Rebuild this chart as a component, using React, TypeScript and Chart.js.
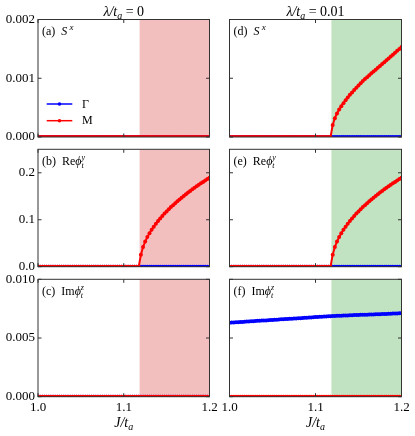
import React, { useEffect, useRef } from 'react';
import { Chart, registerables } from 'chart.js';

Chart.register(...registerables);

// ---------- data ----------
const J_VALUES = [
  1.0000, 1.0025, 1.0050, 1.0075, 1.0100, 1.0125, 1.0150, 1.0175, 1.0200, 1.0225, 1.0250, 1.0275,
  1.0300, 1.0325, 1.0350, 1.0375, 1.0400, 1.0425, 1.0450, 1.0475, 1.0500, 1.0525, 1.0550, 1.0575,
  1.0600, 1.0625, 1.0650, 1.0675, 1.0700, 1.0725, 1.0750, 1.0775, 1.0800, 1.0825, 1.0850, 1.0875,
  1.0900, 1.0925, 1.0950, 1.0975, 1.1000, 1.1025, 1.1050, 1.1075, 1.1100, 1.1125, 1.1150, 1.1175,
  1.1200, 1.1225, 1.1250, 1.1275, 1.1300, 1.1325, 1.1350, 1.1375, 1.1400, 1.1425, 1.1450, 1.1475,
  1.1500, 1.1525, 1.1550, 1.1575, 1.1600, 1.1625, 1.1650, 1.1675, 1.1700, 1.1725, 1.1750, 1.1775,
  1.1800, 1.1825, 1.1850, 1.1875, 1.1900, 1.1925, 1.1950, 1.1975, 1.2000,
];

const ZERO_SERIES = [
  0, 0, 0, 0, 0, 0, 0, 0, 0, 0, 0, 0,
  0, 0, 0, 0, 0, 0, 0, 0, 0, 0, 0, 0,
  0, 0, 0, 0, 0, 0, 0, 0, 0, 0, 0, 0,
  0, 0, 0, 0, 0, 0, 0, 0, 0, 0, 0, 0,
  0, 0, 0, 0, 0, 0, 0, 0, 0, 0, 0, 0,
  0, 0, 0, 0, 0, 0, 0, 0, 0, 0, 0, 0,
  0, 0, 0, 0, 0, 0, 0, 0, 0,
];

// Re phi_t^y at M (same for lambda = 0 and 0.01)
const RE_PHI_M = [
  0, 0, 0, 0, 0, 0, 0, 0, 0, 0, 0, 0,
  0, 0, 0, 0, 0, 0, 0, 0, 0, 0, 0, 0,
  0, 0, 0, 0, 0, 0, 0, 0, 0, 0, 0, 0,
  0, 0, 0, 0, 0, 0, 0, 0, 0, 0, 0, 0,
  0.0257, 0.0420, 0.0535, 0.0630, 0.0712, 0.0786, 0.0853, 0.0915, 0.0974, 0.1029, 0.1081, 0.1131,
  0.1178, 0.1224, 0.1269, 0.1311, 0.1353, 0.1393, 0.1432, 0.1470, 0.1507, 0.1543, 0.1578, 0.1613,
  0.1647, 0.1680, 0.1712, 0.1744, 0.1776, 0.1806, 0.1837, 0.1866, 0.1896,
];

// S^x at M for lambda = 0.01
const SX_M_LAM001 = [
  0, 0, 0, 0, 0, 0, 0, 0, 0, 0, 0, 0,
  0, 0, 0, 0, 0, 0, 0, 0, 0, 0, 0, 0,
  0, 0, 0, 0, 0, 0, 0, 0, 0, 0, 0, 0,
  0, 0, 0, 0, 0, 0, 0, 0, 0, 0, 0, 0,
  0.000204, 0.000320, 0.000400, 0.000466, 0.000525, 0.000576, 0.000625, 0.000674, 0.000719, 0.000758, 0.000798, 0.000837,
  0.000876, 0.000916, 0.000953, 0.000986, 0.001019, 0.001051, 0.001083, 0.001114, 0.001145, 0.001177, 0.001209, 0.001241,
  0.001273, 0.001305, 0.001338, 0.001370, 0.001402, 0.001434, 0.001466, 0.001498, 0.001530,
];

// Im phi_t^z at Gamma for lambda = 0.01
const IM_PHI_G_LAM001 = [
  0.00630, 0.00631, 0.00632, 0.00634, 0.00635, 0.00636, 0.00637, 0.00638, 0.00640, 0.00641, 0.00642, 0.00643,
  0.00644, 0.00646, 0.00647, 0.00648, 0.00649, 0.00650, 0.00651, 0.00653, 0.00654, 0.00655, 0.00656, 0.00657,
  0.00659, 0.00660, 0.00661, 0.00662, 0.00663, 0.00665, 0.00666, 0.00667, 0.00668, 0.00669, 0.00671, 0.00672,
  0.00673, 0.00674, 0.00675, 0.00677, 0.00678, 0.00679, 0.00680, 0.00681, 0.00683, 0.00684, 0.00685, 0.00686,
  0.00687, 0.00688, 0.00689, 0.00689, 0.00690, 0.00691, 0.00692, 0.00692, 0.00693, 0.00694, 0.00695, 0.00695,
  0.00696, 0.00697, 0.00697, 0.00698, 0.00699, 0.00700, 0.00700, 0.00701, 0.00702, 0.00703, 0.00703, 0.00704,
  0.00705, 0.00705, 0.00706, 0.00707, 0.00708, 0.00708, 0.00709, 0.00710, 0.00710,
];

const SHADE_START = 1.1185;
const X_MIN = 1.0;
const X_MAX = 1.2;
const X_TICKS = [1.0, 1.1, 1.2];
const X_TICK_LABELS = ['1.0', '1.1', '1.2'];

const SX_TICKS = [0, 0.001, 0.002];
const SX_TICK_LABELS = ['0.000', '0.001', '0.002'];
const SX_MAX = 0.002;
const RE_TICKS = [0, 0.1, 0.2];
const RE_TICK_LABELS = ['0.0', '0.1', '0.2'];
const RE_MAX = 0.25;
const IM_TICKS = [0, 0.005, 0.01];
const IM_TICK_LABELS = ['0.000', '0.005', '0.010'];
const IM_MAX = 0.01;

const SERIES_NAMES = ['Γ', 'M'];

// ---------- styles / layout ----------
const W = 415;
const H = 436;
const FONT = '"Liberation Serif", "Times New Roman", "DejaVu Serif", serif';
const BLUE = '#0000ff';
const RED = '#ff0000';
const PINK = 'rgb(243,190,190)';
const GREEN = 'rgb(193,227,193)';
const FRAME = '#333333';
const COL_X = [
  [38, 209.5],
  [229.5, 401.5],
];
const ROW_Y = [
  [19.5, 137],
  [149.3, 266.7],
  [279.3, 396.7],
];

type Seg = { t: string; it?: boolean; sz?: number; dy?: number; noAdv?: boolean };

function drawRich(ctx: CanvasRenderingContext2D, segs: Seg[], x: number, y: number, align: 'left' | 'center', base: number) {
  const fontOf = (s: Seg) => `${s.it ? 'italic ' : ''}${s.sz ?? base}px ${FONT}`;
  let total = 0;
  const widths: number[] = [];
  for (const s of segs) {
    ctx.font = fontOf(s);
    const w = ctx.measureText(s.t).width;
    widths.push(w);
    if (!s.noAdv) total += w;
  }
  let cx = align === 'center' ? x - total / 2 : x;
  ctx.textAlign = 'left';
  ctx.textBaseline = 'alphabetic';
  ctx.fillStyle = '#000';
  segs.forEach((s, i) => {
    ctx.font = fontOf(s);
    ctx.fillText(s.t, cx, y + (s.dy ?? 0));
    if (!s.noAdv) cx += widths[i];
  });
}

const SX_LABEL = (tag: string): Seg[] => [
  { t: `(${tag})  ` },
  { t: 'S', it: true },
  { t: ' x', it: true, sz: 9, dy: -5 },
];
const RE_LABEL = (tag: string): Seg[] => [
  { t: `(${tag})  ` },
  { t: 'Re' },
  { t: 'ϕ', it: true },
  { t: 't', it: true, sz: 8, dy: 3, noAdv: true },
  { t: 'y', it: true, sz: 8, dy: -5 },
];
const IM_LABEL = (tag: string): Seg[] => [
  { t: `(${tag})  ` },
  { t: 'Im' },
  { t: 'ϕ', it: true },
  { t: 't', it: true, sz: 8, dy: 3, noAdv: true },
  { t: 'z', it: true, sz: 8, dy: -5 },
];

const PANELS = [
  { col: 0, row: 0, label: SX_LABEL('a'), ticks: SX_TICKS, labels: SX_TICK_LABELS, max: SX_MAX, gamma: ZERO_SERIES, m: ZERO_SERIES, shade: PINK, legend: true },
  { col: 0, row: 1, label: RE_LABEL('b'), ticks: RE_TICKS, labels: RE_TICK_LABELS, max: RE_MAX, gamma: ZERO_SERIES, m: RE_PHI_M, shade: PINK, legend: false },
  { col: 0, row: 2, label: IM_LABEL('c'), ticks: IM_TICKS, labels: IM_TICK_LABELS, max: IM_MAX, gamma: ZERO_SERIES, m: ZERO_SERIES, shade: PINK, legend: false },
  { col: 1, row: 0, label: SX_LABEL('d'), ticks: SX_TICKS, labels: SX_TICK_LABELS, max: SX_MAX, gamma: ZERO_SERIES, m: SX_M_LAM001, shade: GREEN, legend: false },
  { col: 1, row: 1, label: RE_LABEL('e'), ticks: RE_TICKS, labels: RE_TICK_LABELS, max: RE_MAX, gamma: ZERO_SERIES, m: RE_PHI_M, shade: GREEN, legend: false },
  { col: 1, row: 2, label: IM_LABEL('f'), ticks: IM_TICKS, labels: IM_TICK_LABELS, max: IM_MAX, gamma: IM_PHI_G_LAM001, m: ZERO_SERIES, shade: GREEN, legend: false },
];

const COL_TITLES: Seg[][] = [
  [{ t: 'λ/t', it: true }, { t: 'a', it: true, sz: 10, dy: 3 }, { t: ' = 0' }],
  [{ t: 'λ/t', it: true }, { t: 'a', it: true, sz: 10, dy: 3 }, { t: ' = 0.01' }],
];
const X_TITLE: Seg[] = [{ t: 'J/t', it: true }, { t: 'a', it: true, sz: 10, dy: 3 }];

function makeChart(canvas: HTMLCanvasElement, p: (typeof PANELS)[number], idx: number) {
  const [xl, xr] = COL_X[p.col];
  const [yt, yb] = ROW_Y[p.row];
  const yWidth = p.col === 0 ? xl : 0;
  const padLeft = p.col === 0 ? 0 : xl;
  const isBottom = p.row === 2;
  const xHeight = isBottom ? H - yb : 0;
  const padBottom = isBottom ? 0 : H - yb;

  const mkDs = (name: string, vals: number[], color: string, order: number) => ({
    label: name,
    data: J_VALUES.map((x, i) => ({ x, y: vals[i] })),
    borderColor: color,
    backgroundColor: color,
    pointBackgroundColor: color,
    pointBorderWidth: 0,
    pointRadius: 2,
    borderWidth: 2,
    tension: 0,
    order,
  });

  const plugin = {
    id: 'panelDecor' + idx,
    beforeDatasetsDraw(chart: any) {
      const { ctx, chartArea: a } = chart;
      const xs = chart.scales.x.getPixelForValue(SHADE_START);
      ctx.save();
      ctx.fillStyle = p.shade;
      ctx.fillRect(xs, a.top, a.right - xs, a.bottom - a.top);
      ctx.restore();
    },
    afterDatasetsDraw(chart: any) {
      const { ctx, chartArea: a } = chart;
      const sx = chart.scales.x;
      const sy = chart.scales.y;
      ctx.save();
      ctx.strokeStyle = FRAME;
      ctx.lineWidth = 1;
      ctx.strokeRect(a.left, a.top, a.right - a.left, a.bottom - a.top);
      const TL = 3.5;
      ctx.beginPath();
      sy.ticks.forEach((t: any) => {
        const py = sy.getPixelForValue(t.value);
        ctx.moveTo(a.left, py);
        ctx.lineTo(a.left + TL, py);
        ctx.moveTo(a.right, py);
        ctx.lineTo(a.right - TL, py);
      });
      sx.ticks.forEach((t: any) => {
        const px = sx.getPixelForValue(t.value);
        ctx.moveTo(px, a.bottom);
        ctx.lineTo(px, a.bottom - TL);
        ctx.moveTo(px, a.top);
        ctx.lineTo(px, a.top + TL);
      });
      ctx.stroke();
      ctx.restore();
    },
    afterDraw(chart: any) {
      const { ctx, chartArea: a } = chart;
      ctx.save();
      drawRich(ctx, p.label, a.left + 4, a.top + 15.5, 'left', 12);
      const cx = (a.left + a.right) / 2;
      if (p.row === 0) drawRich(ctx, COL_TITLES[p.col], cx, 16, 'center', 14);
      if (isBottom) drawRich(ctx, X_TITLE, cx, 426.5, 'center', 14);
      if (p.legend) {
        const items = [
          { name: chart.data.datasets[1].label, color: chart.data.datasets[1].borderColor, y: 104 },
          { name: chart.data.datasets[0].label, color: chart.data.datasets[0].borderColor, y: 120.7 },
        ];
        items.forEach((it) => {
          ctx.strokeStyle = it.color;
          ctx.lineWidth = 1.5;
          ctx.beginPath();
          ctx.moveTo(a.left + 8.7, it.y);
          ctx.lineTo(a.left + 34.3, it.y);
          ctx.stroke();
          ctx.fillStyle = it.color;
          ctx.beginPath();
          ctx.arc(a.left + 21.5, it.y, 1.8, 0, Math.PI * 2);
          ctx.fill();
          ctx.fillStyle = '#000';
          ctx.font = `12px ${FONT}`;
          ctx.textAlign = 'left';
          ctx.textBaseline = 'middle';
          ctx.fillText(it.name, a.left + 44, it.y + 0.5);
        });
      }
      ctx.restore();
    },
  };

  return new Chart(canvas, {
    type: 'line',
    data: {
      datasets: [
        mkDs(SERIES_NAMES[1], p.m, RED, 0),
        mkDs(SERIES_NAMES[0], p.gamma, BLUE, 1),
      ],
    },
    options: {
      animation: false,
      responsive: false,
      devicePixelRatio: 1,
      events: [],
      layout: { padding: { left: padLeft, right: W - xr, top: yt, bottom: padBottom } },
      plugins: { legend: { display: false }, tooltip: { enabled: false }, title: { display: false } },
      scales: {
        x: {
          type: 'linear',
          min: X_MIN,
          max: X_MAX,
          grid: { display: false, drawTicks: false },
          border: { display: false },
          afterBuildTicks: (s: any) => {
            s.ticks = X_TICKS.map((v) => ({ value: v }));
          },
          afterFit: (s: any) => {
            s.height = xHeight;
          },
          ticks: {
            display: isBottom,
            autoSkip: false,
            maxRotation: 0,
            padding: 3,
            color: '#000',
            font: { family: FONT, size: 13 },
            callback: (_v: any, i: number) => X_TICK_LABELS[i],
          },
        },
        y: {
          type: 'linear',
          min: 0,
          max: p.max,
          grid: { display: false, drawTicks: false },
          border: { display: false },
          afterBuildTicks: (s: any) => {
            s.ticks = p.ticks.map((v) => ({ value: v }));
          },
          afterFit: (s: any) => {
            s.width = yWidth;
          },
          ticks: {
            display: p.col === 0,
            autoSkip: false,
            padding: 3,
            color: '#000',
            font: { family: FONT, size: 13 },
            callback: (_v: any, i: number) => p.labels[i],
          },
        },
      },
    } as any,
    plugins: [plugin],
  });
}

export default function App() {
  const refs = useRef<(HTMLCanvasElement | null)[]>([]);

  useEffect(() => {
    const charts = PANELS.map((p, i) => makeChart(refs.current[i] as HTMLCanvasElement, p, i));
    return () => charts.forEach((c) => c.destroy());
  }, []);

  return (
    <div style={{ position: 'absolute', left: 0, top: 0, width: W, height: H, background: '#fff' }}>
      {PANELS.map((_, i) => (
        <canvas
          key={i}
          ref={(el) => {
            refs.current[i] = el;
          }}
          width={W}
          height={H}
          style={{ position: 'absolute', left: 0, top: 0, width: W, height: H }}
        />
      ))}
    </div>
  );
}
